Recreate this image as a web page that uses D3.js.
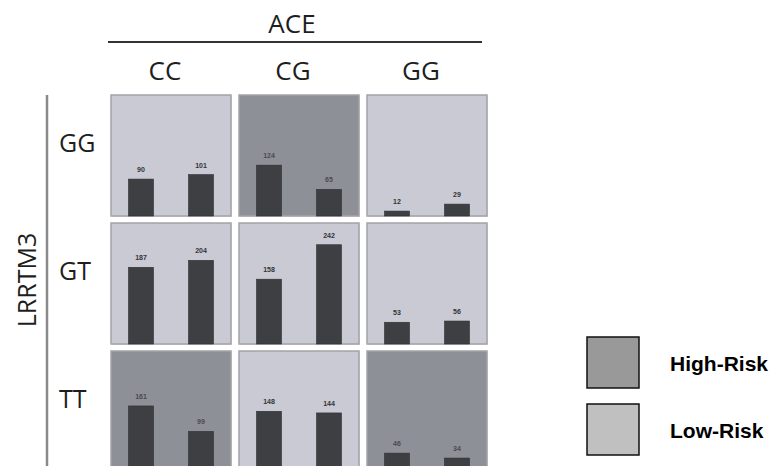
<!DOCTYPE html>
<html>
<head>
<meta charset="utf-8">
<script src="https://cdn.jsdelivr.net/npm/d3@7"></script>
<style>
html,body{margin:0;padding:0;background:#fff;}
svg{display:block;}
</style>
</head>
<body>
<svg id="chart" width="775" height="466"></svg>
<script>
// Data
const aceGenotypes = ["CC", "CG", "GG"];          // columns (ACE)
const lrrtm3Genotypes = ["GG", "GT", "TT"];       // rows (LRRTM3)
const barKeys = ["a", "b"];
// values[row][col] = [bar1, bar2]
const rowGG = [[90, 101], [124, 65], [12, 29]];
const rowGT = [[187, 204], [158, 242], [53, 56]];
const rowTT = [[161, 99], [148, 144], [46, 34]];
const riskGG = ["Low", "High", "Low"];
const riskGT = ["Low", "Low", "Low"];
const riskTT = ["High", "Low", "High"];
const legendLabels = ["High-Risk", "Low-Risk"];

const values = [rowGG, rowGT, rowTT];
const risks = [riskGG, riskGT, riskTT];

const svg = d3.select("#chart");

const colX = d3.scaleBand().domain(aceGenotypes).range([111, 487]).paddingInner(0.0625).paddingOuter(0);
const rowY = d3.scaleBand().domain(lrrtm3Genotypes).range([95, 472]).paddingInner(0.0547).paddingOuter(0);
const inX = d3.scaleBand().domain(barKeys).range([0, colX.bandwidth()]).paddingInner(0.5833).paddingOuter(0.2917);
const y = d3.scaleLinear().domain([0, 295]).range([rowY.bandwidth(), 0]);

const panelFill = {High: "#8e9098", Low: "#c9cad3"};
const labelColor = {High: "#4a4b50", Low: "#333336"};

const cells = [];
lrrtm3Genotypes.forEach((r, ri) => {
  aceGenotypes.forEach((c, ci) => {
    cells.push({row: r, col: c, vals: values[ri][ci], risk: risks[ri][ci]});
  });
});

const g = svg.selectAll("g.cell").data(cells).join("g")
  .attr("class", "cell")
  .attr("transform", d => `translate(${colX(d.col)},${rowY(d.row)})`);

// shadow
g.append("rect")
  .attr("x", 1).attr("y", 1)
  .attr("width", colX.bandwidth()).attr("height", rowY.bandwidth())
  .attr("fill", "#e4e4e6");

g.append("rect")
  .attr("width", colX.bandwidth()).attr("height", rowY.bandwidth())
  .attr("fill", d => panelFill[d.risk])
  .attr("stroke", "#a2a2a8").attr("stroke-width", 1.5);

g.selectAll("rect.bar").data(d => d.vals.map((v, i) => ({k: barKeys[i], v, risk: d.risk}))).join("rect")
  .attr("class", "bar")
  .attr("x", d => inX(d.k))
  .attr("y", d => y(d.v))
  .attr("width", inX.bandwidth())
  .attr("height", d => y(0) - y(d.v))
  .attr("fill", "#3d3f43")
  .attr("stroke", "#2e3033").attr("stroke-width", 0.6);

g.selectAll("text.val").data(d => d.vals.map((v, i) => ({k: barKeys[i], v, risk: d.risk}))).join("text")
  .attr("class", "val")
  .attr("x", d => inX(d.k) + inX.bandwidth() / 2)
  .attr("y", d => y(d.v) - 7)
  .attr("text-anchor", "middle")
  .attr("font-family", "Liberation Sans, Arial, sans-serif")
  .attr("font-weight", "bold")
  .attr("font-size", 7)
  .attr("fill", d => labelColor[d.risk])
  .text(d => d.v);

// Column header
const hdrFont = "'Open Sans', 'Noto Sans', sans-serif";
const hdrSize = 26;
svg.append("text")
  .attr("x", 292).attr("y", 33)
  .attr("text-anchor", "middle")
  .attr("font-family", hdrFont).attr("font-size", hdrSize)
  .attr("fill", "#1e1e1e")
  .text("ACE");
svg.append("line")
  .attr("x1", 108).attr("x2", 482).attr("y1", 42).attr("y2", 42)
  .attr("stroke", "#333").attr("stroke-width", 2);

svg.selectAll("text.colLab").data(aceGenotypes).join("text")
  .attr("class", "colLab")
  .attr("x", d => colX(d) + colX.bandwidth() / 2 - 6)
  .attr("y", 80)
  .attr("text-anchor", "middle")
  .attr("font-family", hdrFont).attr("font-size", hdrSize)
  .attr("fill", "#1e1e1e")
  .text(d => d);

// Row header
svg.append("line")
  .attr("x1", 47).attr("x2", 47).attr("y1", 95).attr("y2", 466)
  .attr("stroke", "#8a8a8a").attr("stroke-width", 2.5);

svg.append("text")
  .attr("transform", "translate(36,280) rotate(-90)")
  .attr("text-anchor", "middle")
  .attr("font-family", hdrFont).attr("font-size", 25)
  .attr("fill", "#1e1e1e")
  .text("LRRTM3");

svg.selectAll("text.rowLab").data(lrrtm3Genotypes).join("text")
  .attr("class", "rowLab")
  .attr("x", 59)
  .attr("y", d => rowY(d) + 57)
  .attr("font-family", hdrFont).attr("font-size", 25)
  .attr("fill", "#1e1e1e")
  .text(d => d);

// Legend
const legendFill = ["#999999", "#c0c0c0"];
const lg = svg.selectAll("g.leg").data(legendLabels).join("g")
  .attr("class", "leg")
  .attr("transform", (d, i) => `translate(587,${337 + i * 67})`);
lg.append("rect")
  .attr("width", 52).attr("height", 51)
  .attr("fill", (d, i) => legendFill[i])
  .attr("stroke", "#111").attr("stroke-width", 1.5);
lg.append("text")
  .attr("x", 83).attr("y", 34)
  .attr("font-family", "Liberation Sans, Arial, sans-serif")
  .attr("font-weight", "bold").attr("font-size", 21)
  .attr("fill", "#000")
  .text(d => d);
</script>
</body>
</html>
